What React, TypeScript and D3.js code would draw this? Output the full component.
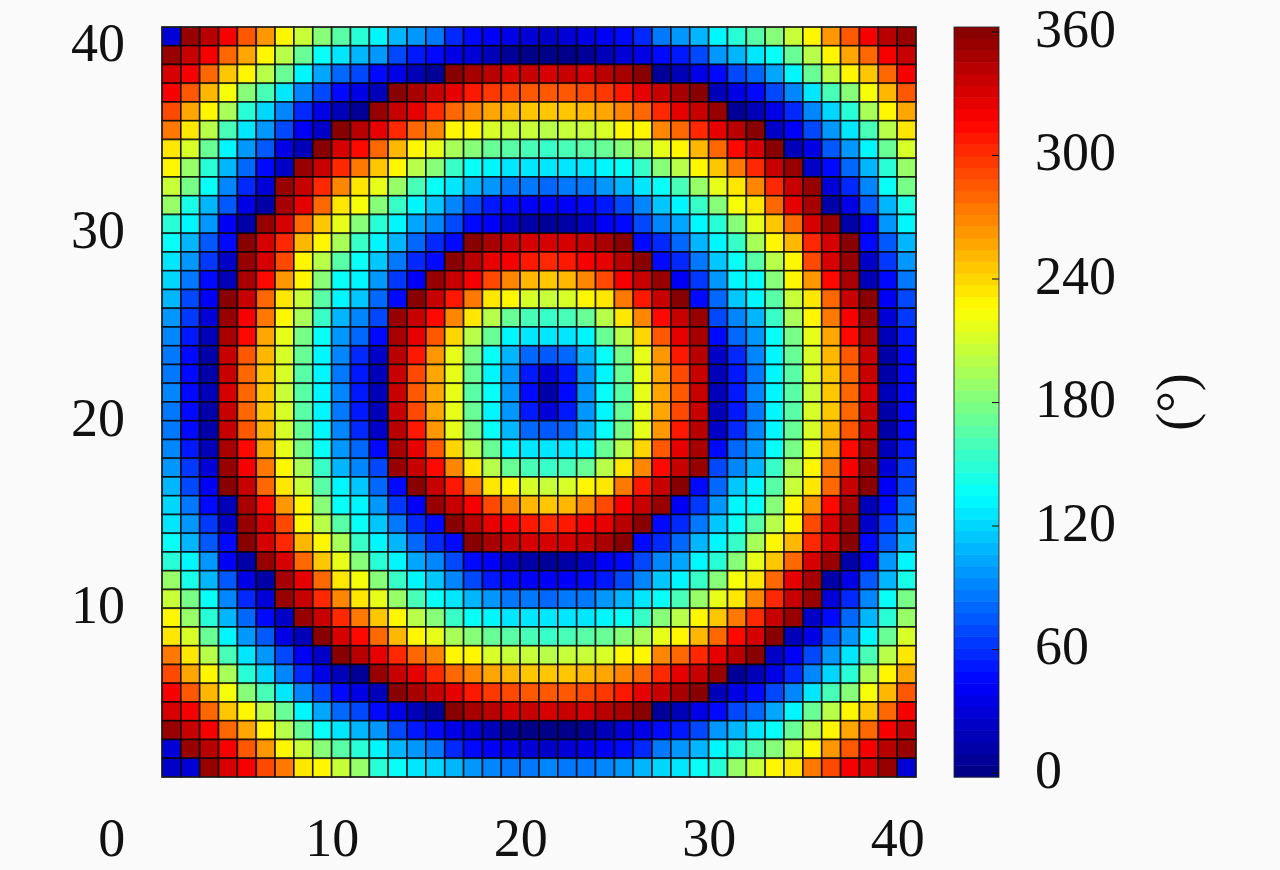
import React, { useEffect, useRef } from 'react';
import * as d3 from 'd3';

const svgWidth = 1280;
const svgHeight = 870;
const plot = { left: 162, right: 916, top: 27, bottom: 777 };
const bar = { left: 954, right: 999, top: 27, bottom: 777 };
const serif = '"Liberation Serif", serif';
const ink = '#111';

const xTicks = [0, 10, 20, 30, 40];
const yTicks = [10, 20, 30, 40];
const barTicks = [0, 60, 120, 180, 240, 300, 360];
const jetStops = [0, 45, 135, 225, 315, 360];
const jetColors = ['#000080', '#0000ff', '#00ffff', '#ffff00', '#ff0000', '#800000'];

// phase in degrees, top row of the picture first (y = 40 down to y = 1), x = 1 to 40
const phaseRows: number[][] = [
  [30,350,340,320,285,260,225,205,185,165,150,130,110,100,85,60,50,40,35,30,25,30,35,40,50,60,85,100,110,130,150,165,185,205,225,260,285,320,340,350],
  [350,335,315,280,255,230,200,170,135,125,110,100,70,55,45,35,30,20,10,5,5,5,10,20,30,35,45,55,70,100,110,125,135,170,200,230,255,280,315,335],
  [330,315,280,245,225,200,170,130,105,80,70,45,35,20,10,355,348,340,330,335,330,335,330,340,348,355,10,20,35,45,70,80,105,130,170,200,225,245,280,315],
  [320,285,250,220,185,160,125,95,70,50,35,20,355,345,335,325,305,295,290,285,285,285,290,295,305,325,335,345,355,20,35,50,70,95,125,160,185,220,250,285],
  [290,255,225,195,150,120,90,60,35,20,10,350,335,325,300,280,265,255,250,245,245,245,250,255,265,280,300,325,335,350,10,20,35,60,90,120,150,195,225,255],
  [275,235,200,160,125,100,70,40,25,355,340,325,300,280,265,225,225,210,205,205,200,205,205,210,225,225,265,280,300,325,340,355,25,40,70,100,125,160,200,235],
  [235,210,170,130,100,75,35,20,355,330,310,280,250,230,215,195,185,170,165,160,155,160,165,170,185,195,215,230,250,280,310,330,355,20,35,75,100,130,170,210],
  [225,190,150,110,80,45,25,350,335,300,270,245,225,200,180,155,135,130,125,125,125,125,125,130,135,155,180,200,225,245,270,300,335,350,25,45,80,110,150,190],
  [205,175,135,95,60,30,350,335,300,265,235,215,190,160,135,125,110,100,85,85,80,85,85,100,110,125,135,160,190,215,235,265,300,335,350,30,60,95,135,175],
  [190,145,110,75,35,15,345,325,280,235,220,185,155,130,115,90,70,55,45,40,40,40,45,55,70,90,115,130,155,185,220,235,280,325,345,15,35,75,110,145],
  [150,130,100,40,15,350,330,280,245,215,185,150,130,105,90,70,50,40,25,15,10,15,25,40,50,70,90,105,130,150,185,215,245,280,330,350,15,40,100,130],
  [140,110,75,50,355,330,300,250,225,195,155,130,110,80,60,45,355,345,335,330,330,330,335,345,355,45,60,80,110,130,155,195,225,250,300,330,355,50,75,110],
  [125,100,65,25,350,330,290,230,200,165,140,115,85,60,45,355,340,325,315,305,300,305,315,325,340,355,45,60,85,115,140,165,200,230,290,330,350,25,65,100],
  [120,85,50,20,345,310,260,225,180,140,130,100,65,40,350,335,315,290,265,250,245,250,265,290,315,335,350,40,65,100,130,140,180,225,260,310,345,20,50,85],
  [110,70,40,355,335,280,235,205,165,130,115,80,50,355,335,305,270,235,225,210,205,210,225,235,270,305,335,355,50,80,115,130,165,205,235,280,335,355,40,70],
  [100,65,30,350,320,270,225,195,155,110,90,70,350,335,310,265,235,200,170,160,155,160,170,200,235,265,310,335,350,70,90,110,155,195,225,270,320,350,30,65],
  [90,55,20,345,310,255,215,175,135,100,80,50,345,325,285,240,200,170,130,125,125,125,130,170,200,240,285,325,345,50,80,100,135,175,215,255,310,345,20,55],
  [85,45,15,335,285,250,210,170,130,95,60,25,340,305,260,215,175,135,110,80,75,80,110,135,175,215,260,305,340,25,60,95,130,170,210,250,285,335,15,45],
  [85,45,15,335,280,245,210,165,130,85,55,20,335,290,255,215,170,130,100,55,30,55,100,130,170,215,255,290,335,20,55,85,130,165,210,245,280,335,15,45],
  [90,50,20,330,280,245,205,165,130,90,55,20,335,285,255,215,165,135,100,50,15,50,100,135,165,215,255,285,335,20,55,90,130,165,205,245,280,330,20,50],
  [85,45,15,335,280,245,210,165,130,85,55,20,335,290,255,215,170,130,100,55,30,55,100,130,170,215,255,290,335,20,55,85,130,165,210,245,280,335,15,45],
  [85,45,15,335,285,250,210,170,130,95,60,25,340,305,260,215,175,135,110,80,75,80,110,135,175,215,260,305,340,25,60,95,130,170,210,250,285,335,15,45],
  [90,55,20,345,310,255,215,175,135,100,80,50,345,325,285,240,200,170,130,125,125,125,130,170,200,240,285,325,345,50,80,100,135,175,215,255,310,345,20,55],
  [100,65,30,350,320,270,225,195,155,110,90,70,350,335,310,265,235,200,170,160,155,160,170,200,235,265,310,335,350,70,90,110,155,195,225,270,320,350,30,65],
  [110,70,40,355,335,280,235,205,165,130,115,80,50,355,335,305,270,235,225,210,205,210,225,235,270,305,335,355,50,80,115,130,165,205,235,280,335,355,40,70],
  [120,85,50,20,345,310,260,225,180,140,130,100,65,40,350,335,315,290,265,250,245,250,265,290,315,335,350,40,65,100,130,140,180,225,260,310,345,20,50,85],
  [125,100,65,25,350,330,290,230,200,165,140,115,85,60,45,355,340,325,315,305,300,305,315,325,340,355,45,60,85,115,140,165,200,230,290,330,350,25,65,100],
  [140,110,75,50,355,330,300,250,225,195,155,130,110,80,60,45,355,345,335,330,330,330,335,345,355,45,60,80,110,130,155,195,225,250,300,330,355,50,75,110],
  [150,130,100,40,15,350,330,280,245,215,185,150,130,105,90,70,50,40,25,15,10,15,25,40,50,70,90,105,130,150,185,215,245,280,330,350,15,40,100,130],
  [190,145,110,75,35,15,345,325,280,235,220,185,155,130,115,90,70,55,45,40,40,40,45,55,70,90,115,130,155,185,220,235,280,325,345,15,35,75,110,145],
  [205,175,135,95,60,30,350,335,300,265,235,215,190,160,135,125,110,100,85,85,80,85,85,100,110,125,135,160,190,215,235,265,300,335,350,30,60,95,135,175],
  [225,190,150,110,80,45,25,350,335,300,270,245,225,200,180,155,135,130,125,125,125,125,125,130,135,155,180,200,225,245,270,300,335,350,25,45,80,110,150,190],
  [235,210,170,130,100,75,35,20,355,330,310,280,250,230,215,195,185,170,165,160,155,160,165,170,185,195,215,230,250,280,310,330,355,20,35,75,100,130,170,210],
  [275,235,200,160,125,100,70,40,25,355,340,325,300,280,265,225,225,210,205,205,200,205,205,210,225,225,265,280,300,325,340,355,25,40,70,100,125,160,200,235],
  [290,255,225,195,150,120,90,60,35,20,10,350,335,325,300,280,265,255,250,245,245,245,250,255,265,280,300,325,335,350,10,20,35,60,90,120,150,195,225,255],
  [320,285,250,220,185,160,125,95,70,50,35,20,355,345,335,325,305,295,290,285,285,285,290,295,305,325,335,345,355,20,35,50,70,95,125,160,185,220,250,285],
  [330,315,280,245,225,200,170,130,105,80,70,45,35,20,10,355,348,340,330,335,330,335,330,340,348,355,10,20,35,45,70,80,105,130,170,200,225,245,280,315],
  [350,335,315,280,255,230,200,170,135,125,110,100,70,55,45,35,30,20,10,5,5,5,10,20,30,35,45,55,70,100,110,125,135,170,200,230,255,280,315,335],
  [30,350,340,320,285,260,225,205,185,165,150,130,110,100,85,60,50,40,35,30,25,30,35,40,50,60,85,100,110,130,150,165,185,205,225,260,285,320,340,350],
  [25,30,350,330,320,290,275,235,225,205,190,150,140,125,120,110,100,90,85,85,90,85,85,90,100,110,120,125,140,150,190,205,225,235,275,290,320,330,350,30],
];

const App = () => {
  const ref = useRef<SVGSVGElement>(null);

  useEffect(() => {
    if (!ref.current) return;
    const svg = d3.select(ref.current);
    svg.selectAll('*').remove();

    svg.append('rect').attr('width', svgWidth).attr('height', svgHeight).attr('fill', '#fafafa');

    const xScale = d3.scaleLinear().domain([1, 41]).range([plot.left, plot.right]);
    const yScale = d3.scaleLinear().domain([1, 41]).range([plot.bottom, plot.top]);

    const jet = d3.scaleLinear<string>().domain(jetStops).range(jetColors);
    const levels = d3.range(64);
    const levelColors = levels.map(l => jet(((l + 0.5) / 64) * 360));
    const colorScale = d3.scaleQuantize<string>().domain([0, 360]).range(levelColors);

    const cells = phaseRows.flatMap((row, r) =>
      row.map((value, c) => ({ x: c + 1, y: 40 - r, value }))
    );

    // cells
    svg.append('g')
      .selectAll('rect')
      .data(cells)
      .enter()
      .append('rect')
      .attr('x', d => xScale(d.x))
      .attr('y', d => yScale(d.y + 1))
      .attr('width', xScale(2) - xScale(1))
      .attr('height', yScale(1) - yScale(2))
      .attr('fill', d => colorScale(d.value))
      .attr('stroke', '#000')
      .attr('stroke-opacity', 0.75)
      .attr('stroke-width', 1.7);

    svg.append('rect')
      .attr('x', plot.left)
      .attr('y', plot.top)
      .attr('width', plot.right - plot.left)
      .attr('height', plot.bottom - plot.top)
      .attr('fill', 'none')
      .attr('stroke', '#222')
      .attr('stroke-width', 1.2);

    const styleTicks = (g: any) => {
      g.select('.domain').remove();
      g.selectAll('.tick line').remove();
      g.selectAll('text')
        .attr('font-family', serif)
        .attr('font-size', 54)
        .attr('fill', ink);
    };

    // x axis, the 0 label sits further out than its position on the scale
    svg.append('g')
      .attr('transform', `translate(0, ${plot.bottom})`)
      .call(d3.axisBottom(xScale).tickValues(xTicks).tickFormat(d3.format('d')).tickSize(0))
      .call(styleTicks)
      .call((g: any) => {
        g.selectAll('text').attr('y', 0).attr('dy', 0).attr('transform', 'translate(0, 79)');
        g.selectAll('.tick').filter((d: number) => d === 0).select('text').attr('x', -32);
      });

    svg.append('g')
      .attr('transform', `translate(${plot.left}, 0)`)
      .call(d3.axisLeft(yScale).tickValues(yTicks).tickFormat(d3.format('d')).tickSize(0))
      .call(styleTicks)
      .call((g: any) => {
        g.selectAll('text').attr('x', -37).attr('dy', '0.27em');
      });

    // colorbar
    const barBand = d3.scaleBand<number>().domain(levels).range([bar.bottom, bar.top]);
    svg.append('g')
      .selectAll('rect')
      .data(levels)
      .enter()
      .append('rect')
      .attr('x', bar.left)
      .attr('y', d => barBand(d) as number)
      .attr('width', bar.right - bar.left)
      .attr('height', barBand.bandwidth() + 0.5)
      .attr('fill', d => levelColors[d]);

    svg.append('rect')
      .attr('x', bar.left)
      .attr('y', bar.top)
      .attr('width', bar.right - bar.left)
      .attr('height', bar.bottom - bar.top)
      .attr('fill', 'none')
      .attr('stroke', '#222')
      .attr('stroke-opacity', 0.7)
      .attr('stroke-width', 1.2);

    const barScale = d3.scaleLinear().domain([0, 360]).range([772.5, 31.5]);
    svg.append('g')
      .attr('transform', `translate(${bar.right}, 0)`)
      .call(d3.axisRight(barScale).tickValues(barTicks).tickFormat(d3.format('d')).tickSize(0))
      .call((g: any) => {
        g.select('.domain').remove();
        g.selectAll('.tick line').attr('x1', -7).attr('x2', 0).attr('stroke', '#111').attr('stroke-width', 1);
        g.selectAll('text')
          .attr('font-family', serif)
          .attr('font-size', 54)
          .attr('fill', ink)
          .attr('x', 36)
          .attr('dy', '0.27em');
      });

    svg.append('text')
      .attr('transform', 'translate(1194, 402) rotate(-90)')
      .attr('text-anchor', 'middle')
      .attr('font-family', serif)
      .attr('font-size', 54)
      .attr('fill', ink)
      .text('(°)');
  }, []);

  return (
    <svg
      ref={ref}
      width={svgWidth}
      height={svgHeight}
      style={{ position: 'absolute', left: 0, top: 0, display: 'block' }}
    />
  );
};

export default App;
